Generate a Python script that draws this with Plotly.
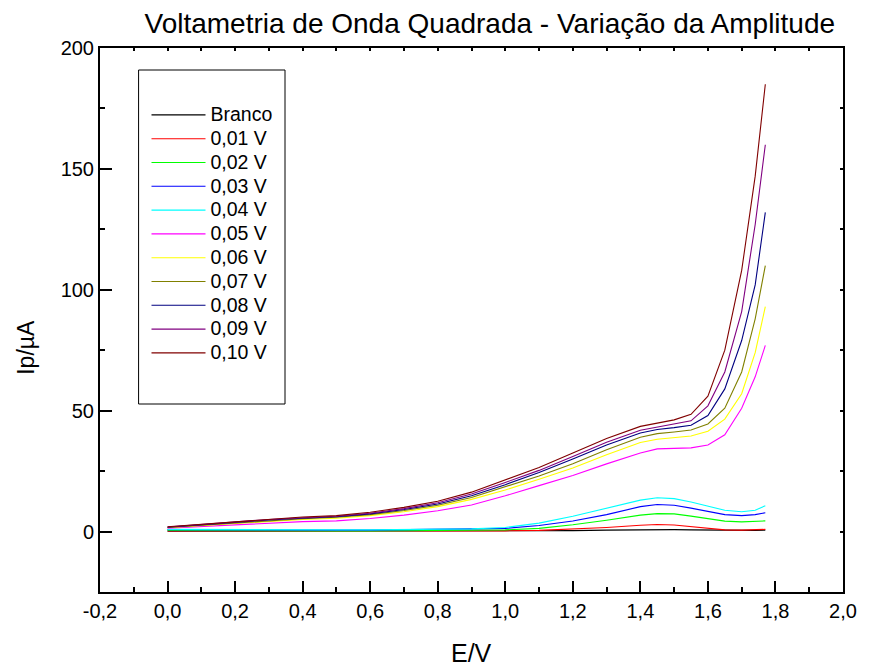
import plotly.graph_objects as go

# ---------------- data ----------------
E = [0.0, 0.1, 0.2, 0.3, 0.4, 0.5, 0.6, 0.7, 0.8, 0.9, 1.0, 1.1, 1.2, 1.3, 1.4,
     1.45, 1.5, 1.55, 1.6, 1.65, 1.7, 1.74, 1.77]

branco = [0.1, 0.1, 0.1, 0.1, 0.1, 0.1, 0.1, 0.1, 0.1, 0.2, 0.2, 0.3, 0.4, 0.6, 0.8,
          0.8, 0.8, 0.7, 0.6, 0.5, 0.5, 0.5, 0.6]
a001 = [0.2, 0.2, 0.1, 0.1, 0.1, 0.1, 0.1, 0.1, 0.2, 0.2, 0.3, 0.5, 1.0, 1.7, 2.6,
        2.9, 2.7, 2.0, 1.2, 0.7, 0.6, 0.7, 0.9]
a002 = [0.5, 0.4, 0.3, 0.3, 0.3, 0.3, 0.3, 0.4, 0.5, 0.6, 0.7, 1.3, 2.8, 4.7, 6.8,
        7.4, 7.3, 6.4, 5.2, 4.3, 4.0, 4.2, 4.4]
a003 = [0.8, 0.7, 0.6, 0.6, 0.6, 0.6, 0.6, 0.7, 0.8, 0.9, 1.3, 2.5, 4.4, 7.0, 10.3,
        11.2, 10.9, 9.7, 8.3, 7.0, 6.6, 7.0, 7.8]
a004 = [0.9, 0.8, 0.7, 0.7, 0.7, 0.7, 0.7, 0.8, 0.9, 1.1, 1.7, 3.5, 6.3, 9.5, 13.0,
        14.0, 13.6, 12.2, 10.5, 8.8, 8.2, 8.8, 10.7]
a005 = [1.4, 2.1, 3.0, 3.7, 4.1, 4.4, 5.4, 6.8, 8.6, 11.0, 14.8, 19.0, 23.2, 28.0, 32.5,
        34.2, 34.4, 34.6, 35.8, 40.0, 51.0, 64.0, 77.0]
a006 = [1.6, 2.4, 3.5, 4.3, 5.0, 5.5, 6.6, 8.2, 10.3, 13.3, 17.2, 21.6, 26.3, 31.8, 36.8,
        38.2, 38.8, 39.5, 41.5, 46.5, 57.0, 74.0, 93.0]
a007 = [1.7, 2.6, 3.8, 4.6, 5.3, 5.9, 7.0, 8.7, 10.9, 14.1, 18.4, 23.0, 28.0, 33.8, 39.0,
        40.5, 41.2, 42.0, 44.5, 51.0, 66.0, 88.0, 110.0]
a008 = [1.8, 2.8, 4.0, 4.8, 5.5, 6.1, 7.3, 9.1, 11.4, 14.8, 19.4, 24.4, 30.0, 35.8, 40.8,
        42.2, 43.0, 44.0, 48.0, 59.0, 79.0, 102.0, 132.0]
a009 = [1.9, 2.9, 4.1, 5.0, 5.7, 6.3, 7.6, 9.5, 11.9, 15.5, 20.3, 25.3, 31.0, 36.9, 41.9,
        43.2, 44.3, 45.8, 52.0, 66.0, 91.0, 127.0, 160.0]
a010 = [2.0, 3.0, 4.3, 5.3, 6.0, 6.6, 8.0, 10.0, 12.5, 16.3, 21.3, 26.5, 32.5, 38.5, 43.5,
        44.8, 46.2, 48.5, 56.0, 75.0, 108.0, 147.0, 185.0]

names = ["Branco", "0,01 V", "0,02 V", "0,03 V", "0,04 V", "0,05 V",
         "0,06 V", "0,07 V", "0,08 V", "0,09 V", "0,10 V"]
series = [branco, a001, a002, a003, a004, a005, a006, a007, a008, a009, a010]
colors = ["#000000", "#ff0000", "#00ff00", "#0000ff", "#00ffff", "#ff00ff",
          "#ffff00", "#808000", "#000080", "#800080", "#800000"]

x_tickvals = [-0.2, 0.0, 0.2, 0.4, 0.6, 0.8, 1.0, 1.2, 1.4, 1.6, 1.8, 2.0]
x_ticktext = ["-0,2", "0,0", "0,2", "0,4", "0,6", "0,8", "1,0", "1,2", "1,4", "1,6", "1,8", "2,0"]
y_tickvals = [0, 50, 100, 150, 200]
y_ticktext = ["0", "50", "100", "150", "200"]

# ---------------- figure ----------------
W, H = 869, 666
L, R, T, B = 100, 851, 48, 592
def px(xp): return (xp - L) / (R - L)
def py(yp): return (B - yp) / (B - T)

FONT = "Arial, Liberation Sans, sans-serif"

fig = go.Figure()
for n, s, c in zip(names, series, colors):
    fig.add_trace(go.Scatter(x=E, y=s, mode="lines",
                             name='<span style="font-size:19.5px">' + n + '</span>',
                             line=dict(color=c, width=1.1)))
# dummy trace for top / right mirror axes
fig.add_trace(go.Scatter(x=[None], y=[None], xaxis="x2", yaxis="y2",
                         showlegend=False, hoverinfo="skip"))

axcommon = dict(showgrid=False, zeroline=False, showline=True, linecolor="black",
                linewidth=2, ticks="inside", tickcolor="black", tickwidth=2)

fig.update_layout(
    width=W, height=H,
    margin=dict(l=L, r=W - R, t=T, b=H - B),
    paper_bgcolor="white", plot_bgcolor="white",
    font=dict(family=FONT, size=20, color="black"),
    title=dict(text="Voltametria de Onda Quadrada - Variação da Amplitude",
               x=px(494), xref="paper", xanchor="center",
               y=1 - 23 / H, yref="container", yanchor="middle",
               font=dict(size=28, family=FONT, color="black")),
    xaxis=dict(range=[-0.2, 2.0], tickvals=x_tickvals, ticktext=x_ticktext,
               ticklen=11, minor=dict(ticks="inside", ticklen=5, dtick=0.1,
                                      tick0=0, tickcolor="black", tickwidth=2),
               tickfont=dict(size=20), **axcommon),
    yaxis=dict(range=[-25, 200], tickvals=y_tickvals, ticktext=y_ticktext,
               ticklen=12, minor=dict(ticks="inside", ticklen=5, dtick=25,
                                      tick0=0, tickcolor="black", tickwidth=2),
               tickfont=dict(size=20), **axcommon),
    xaxis2=dict(range=[-0.2, 2.0], overlaying="x", side="top", anchor="y",
                dtick=0.1, tick0=0, showticklabels=False, ticklen=3, **axcommon),
    yaxis2=dict(range=[-25, 200], overlaying="y", side="right", anchor="x",
                dtick=25, tick0=0, showticklabels=False, ticklen=3, **axcommon),
    showlegend=True,
    legend=dict(x=px(147), y=py(98), xanchor="left", yanchor="top",
                bgcolor="rgba(0,0,0,0)", borderwidth=0,
                font=dict(size=16, family=FONT, color="black"),
                itemwidth=54, tracegroupgap=0),
    shapes=[dict(type="rect", xref="paper", yref="paper",
                 x0=px(139), x1=px(287), y0=py(404), y1=py(70),
                 line=dict(color="black", width=1), layer="above")],
    annotations=[
        dict(text="E/V", x=px(475), y=py(669), xref="paper", yref="paper",
             xanchor="center", yanchor="bottom", showarrow=False,
             font=dict(size=25, family=FONT)),
        dict(text="Ip/µA", x=px(25), y=py(347), xref="paper", yref="paper",
             xanchor="center", yanchor="middle", showarrow=False, textangle=-90,
             font=dict(size=23, family=FONT)),
    ],
)

fig.write_html("out.html")
